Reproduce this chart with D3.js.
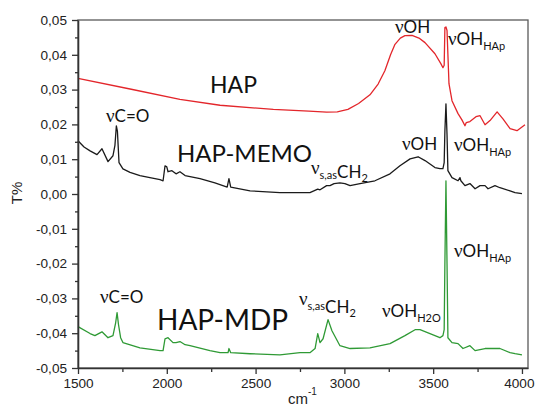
<!DOCTYPE html>
<html><head><meta charset="utf-8">
<script src="https://cdn.jsdelivr.net/npm/d3@7"></script>
<style>body{margin:0;background:#fff;} svg{display:block;}</style>
</head><body>
<svg id="chart" width="535" height="408"></svg>
<script>
// ---- data (wavenumber cm-1, T%) ----
const xTicks = [1500, 2000, 2500, 3000, 3500, 4000];
const xMinorTicks = [1750, 2250, 2750, 3250, 3750];
const yTicks = [-0.05, -0.04, -0.03, -0.02, -0.01, 0, 0.01, 0.02, 0.03, 0.04, 0.05];
const yMinorTicks = [-0.045, -0.035, -0.025, -0.015, -0.005, 0.005, 0.015, 0.025, 0.035, 0.045];

const hapWn = [1500,1800,2074,2300,2600,2800,2900,2960,3020,3080,3144,3190,3228,3260,3285,3315,3341,3381,3420,3454,3510,3544,3555,3562,3566,3572,3578,3589,3606,3640,3662,3679,3686,3707,3741,3764,3792,3820,3860,3893,3933,3972,4017];
const hapT  = [0.0332,0.0301,0.0272,0.0255,0.0243,0.0238,0.0235,0.0236,0.0243,0.0260,0.0285,0.0316,0.0354,0.0400,0.0430,0.0448,0.0455,0.0456,0.0448,0.0435,0.0403,0.0374,0.0363,0.0370,0.0478,0.0480,0.0470,0.0317,0.0268,0.0231,0.0213,0.0196,0.0205,0.0208,0.0222,0.0225,0.0199,0.0211,0.0236,0.0216,0.0188,0.0182,0.0199];

const memoWn = [1500,1534,1568,1607,1635,1669,1697,1708,1716,1722,1731,1753,1793,1849,1905,1962,1979,1990,2000,2007,2029,2052,2074,2103,2187,2271,2340,2350,2360,2469,2637,2806,2850,2863,2900,2919,2942,2975,3003,3032,3088,3172,3257,3313,3370,3415,3454,3510,3538,3555,3562,3566,3572,3578,3583,3606,3640,3651,3656,3679,3707,3736,3764,3792,3809,3848,3876,3933,3961,4000];
const memoT  = [0.0153,0.0135,0.0124,0.0113,0.0130,0.0093,0.0110,0.0140,0.0196,0.0180,0.0090,0.0072,0.0062,0.0053,0.0047,0.0041,0.0038,0.0081,0.0078,0.0064,0.0067,0.0058,0.0064,0.0053,0.0044,0.0032,0.0020,0.0044,0.0020,0.0009,0.0004,0.0004,0.0014,0.0012,0.0024,0.0024,0.0030,0.0032,0.0030,0.0024,0.0030,0.0038,0.0058,0.0081,0.0101,0.0107,0.0096,0.0076,0.0073,0.0073,0.0090,0.0180,0.0259,0.0170,0.0067,0.0047,0.0038,0.0047,0.0038,0.0024,0.0030,0.0015,0.0024,0.0024,0.0015,0.0024,0.0018,0.0009,0.0004,0.0001];

const mdpWn = [1500,1568,1595,1635,1669,1697,1712,1720,1728,1740,1753,1849,1962,1979,1990,2007,2035,2052,2074,2103,2131,2243,2300,2345,2350,2360,2469,2637,2750,2806,2835,2850,2863,2880,2908,2930,2975,3032,3144,3257,3341,3398,3426,3482,3538,3555,3562,3566,3572,3578,3583,3606,3640,3668,3707,3736,3792,3876,3933,3961,4000];
const mdpT  = [-0.0381,-0.0401,-0.0407,-0.0396,-0.0413,-0.0407,-0.0370,-0.0341,-0.0375,-0.0413,-0.0427,-0.0442,-0.0450,-0.0450,-0.0416,-0.0413,-0.0427,-0.0427,-0.0424,-0.0433,-0.0436,-0.0450,-0.0456,-0.0456,-0.0444,-0.0456,-0.0459,-0.0462,-0.0456,-0.0456,-0.0444,-0.0401,-0.0427,-0.0416,-0.0361,-0.0393,-0.0436,-0.0444,-0.0442,-0.0430,-0.0407,-0.0390,-0.0390,-0.0401,-0.0413,-0.0407,-0.0390,-0.0200,0.0038,-0.0200,-0.0413,-0.0427,-0.0430,-0.0444,-0.0436,-0.0450,-0.0444,-0.0444,-0.0456,-0.0459,-0.0462];

const seriesNames = ["HAP", "HAP-MEMO", "HAP-MDP"];
const seriesColors = ["#e3262b", "#1b1b1b", "#2f9a35"];

// ---- layout ----
const svg = d3.select("#chart");
const x = d3.scaleLinear().domain([1500, 4034]).range([78, 528]);
const y = d3.scaleLinear().domain([-0.05, 0.05]).range([368, 20]);
const tickFont = "'Liberation Sans', Arial, sans-serif";
const annFont = "Lato, 'Open Sans', sans-serif";
const nuFont = "'Liberation Serif', 'DejaVu Serif', serif";

// frame
svg.append("rect").attr("x", 78).attr("y", 20).attr("width", 450).attr("height", 348)
  .attr("fill", "none").attr("stroke", "#5a5a5a").attr("stroke-width", 1.3);

// curves
const series = [[hapWn, hapT], [memoWn, memoT], [mdpWn, mdpT]];
const line = d3.line().x(d => x(d[0])).y(d => y(d[1]));
series.forEach((s, i) => {
  const pts = s[0].map((w, j) => [w, s[1][j]]);
  svg.append("path").datum(pts).attr("d", line).attr("fill", "none")
    .attr("stroke", seriesColors[i]).attr("stroke-width", 1.3).attr("stroke-linejoin", "round");
});

// axes
const fmtY = v => d3.format(".2f")(v).replace(".", ",").replace("−", "-");
const gx = svg.append("g").attr("transform", "translate(0,368)")
  .call(d3.axisBottom(x).tickValues(xTicks).tickSize(6).tickSizeOuter(0).tickPadding(4).tickFormat(d3.format("d")));
svg.append("g").attr("transform", "translate(0,368)")
  .call(d3.axisBottom(x).tickValues(xMinorTicks).tickSize(4).tickSizeOuter(0).tickFormat(""))
  .select(".domain").remove();
svg.append("g").attr("transform", "translate(78,0)")
  .call(d3.axisLeft(y).tickValues(yTicks).tickSize(6).tickSizeOuter(0).tickPadding(5).tickFormat(fmtY));
svg.append("g").attr("transform", "translate(78,0)")
  .call(d3.axisLeft(y).tickValues(yMinorTicks).tickSize(3).tickSizeOuter(0).tickFormat(""))
  .select(".domain").remove();
svg.selectAll(".domain").attr("stroke", "#333").attr("stroke-width", 1.6);
svg.selectAll(".tick line").attr("stroke", "#333").attr("stroke-width", 1.3);
svg.selectAll(".tick text").attr("font-family", tickFont).attr("font-size", 13.6).attr("fill", "#222");
// keep the last x label inside the picture, as in the reference
gx.selectAll(".tick text").filter(d => d === 4000).attr("text-anchor", "end").attr("dx", 12);

// axis titles
svg.append("text").attr("transform", "translate(22,193) rotate(-90)").attr("text-anchor", "middle")
  .attr("font-family", tickFont).attr("font-size", 15).attr("fill", "#222").text("T%");
const xt = svg.append("text").attr("x", 288).attr("y", 404).attr("font-family", tickFont)
  .attr("font-size", 15).attr("fill", "#222");
xt.append("tspan").text("cm");
xt.append("tspan").attr("dy", -9).attr("font-size", 10).text("-1");

// annotations
function ann(px, py, parts) {
  const t = svg.append("text").attr("x", px).attr("y", py).attr("font-family", annFont).attr("fill", "#111");
  let cur = 0;
  parts.forEach(p => {
    const sp = t.append("tspan").attr("font-size", p.s).text(p.t);
    if (p.f) sp.attr("font-family", p.f);
    const off = p.dy || 0;
    sp.attr("dy", off - cur);
    cur = off;
  });
  return t;
}
ann(210, 93, [{t: seriesNames[0], s: 23}]);
ann(177, 162, [{t: seriesNames[1], s: 24}]);
ann(157, 330, [{t: seriesNames[2], s: 28}]);

ann(106, 122, [{t: "ν", s: 19, f: nuFont}, {t: "C=O", s: 17}]);
ann(100, 303, [{t: "ν", s: 19, f: nuFont}, {t: "C=O", s: 17}]);

ann(395, 33, [{t: "ν", s: 19, f: nuFont}, {t: "OH", s: 17}]);
ann(448, 45, [{t: "ν", s: 19, f: nuFont}, {t: "OH", s: 17}, {t: "HAp", s: 11, dy: 5}]);

ann(402, 150, [{t: "ν", s: 19, f: nuFont}, {t: "OH", s: 17}]);
ann(454, 151, [{t: "ν", s: 19, f: nuFont}, {t: "OH", s: 17}, {t: "HAp", s: 11, dy: 5}]);
ann(311, 174, [{t: "ν", s: 19, f: nuFont}, {t: "s,as", s: 11, dy: 5}, {t: "CH", s: 17, dy: 4}, {t: "2", s: 11, dy: 8}]);

ann(299, 305, [{t: "ν", s: 19, f: nuFont}, {t: "s,as", s: 11, dy: 5}, {t: "CH", s: 17, dy: 8}, {t: "2", s: 11, dy: 12}]);
ann(382, 317, [{t: "ν", s: 19, f: nuFont}, {t: "OH", s: 17}, {t: "H2O", s: 11, dy: 5}]);
ann(454, 257, [{t: "ν", s: 19, f: nuFont}, {t: "OH", s: 17}, {t: "HAp", s: 11, dy: 5}]);
</script>
</body></html>
